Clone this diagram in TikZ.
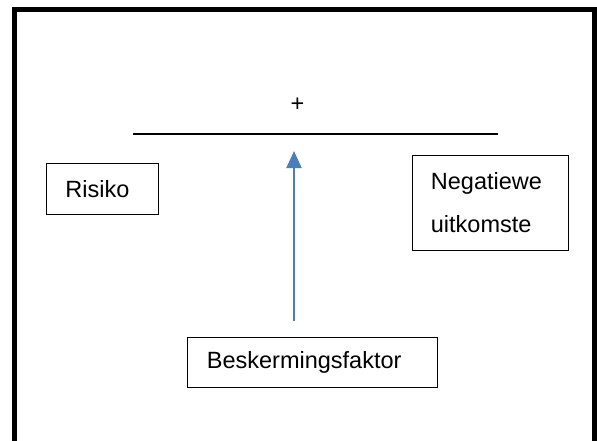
\documentclass[tikz,border=0pt]{standalone}
\usepackage{fontspec}
\setmainfont{Liberation Sans}
\usetikzlibrary{arrows.meta}
\definecolor{arrowblue}{RGB}{74,126,187}
\tikzset{
  labelbox/.style={draw=black, line width=0.8pt, anchor=north west, align=left,
    inner ysep=0pt, font=\fontsize{23.5}{43}\selectfont},
  baseline rule/.style={line width=1.6pt},
  upArrow/.style={draw=arrowblue, line width=2pt,
    -{Triangle[length=17pt,width=15pt]}}
}
\begin{document}
\begin{tikzpicture}[x=1pt, y=-1pt]
  \useasboundingbox (0,0) rectangle (597,440);
  % outer frame
  \draw[line width=5pt] (14.5,448) -- (14.5,9.5) -- (594.5,9.5) -- (594.5,448);

  % boxes
  \node[labelbox, inner xsep=19pt, text width=74pt, minimum height=51pt]
    (risiko) at (46,163) {Risiko};
  \node[labelbox, inner xsep=18.5pt, text width=119pt, minimum height=95pt]
    (uitkomste) at (412,155) {Negatiewe\\uitkomste};
  \node[labelbox, inner xsep=19.5pt, text width=211pt, minimum height=50pt]
    (faktor) at (187,337) {Beskermingsfaktor};

  % balance line with plus sign
  \coordinate (lineL) at (133,134);
  \coordinate (lineR) at (498,134);
  \draw[baseline rule] (lineL) -- (lineR);
  \node[font=\fontsize{23.5}{28}\selectfont, inner sep=0pt, anchor=base]
    (plus) at (297.5,111) {+};

  % arrow pushing up against the line
  \coordinate (arrowFoot) at (294,321);
  \coordinate (arrowTip) at (294,151);
  \draw[upArrow] (arrowFoot) -- (arrowTip);
\end{tikzpicture}
\end{document}
